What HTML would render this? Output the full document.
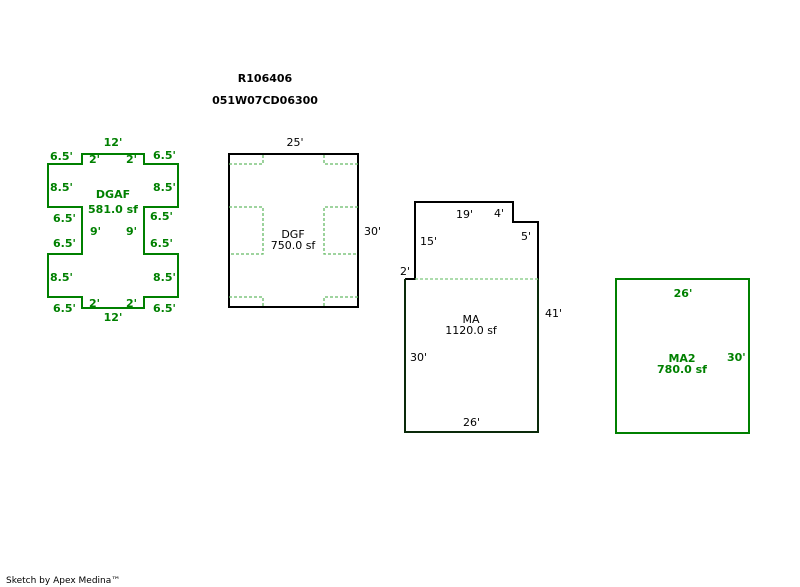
<!DOCTYPE html>
<html><head><style>
body{margin:0;background:#fff}
svg{display:block}
text{font-family:"DejaVu Sans","Liberation Sans",sans-serif;font-size:11px}
.g{fill:#008000;font-weight:bold}
.k{fill:#000}
</style></head><body>
<svg width="800" height="587" viewBox="0 0 800 587">
<text class="k" x="265" y="82" text-anchor="middle" font-weight="bold">R106406</text>
<text class="k" x="265" y="104" text-anchor="middle" font-weight="bold">051W07CD06300</text>

<!-- DGAF -->
<polygon points="82,154 144,154 144,164 178,164 178,207 144,207 144,254 178,254 178,297 144,297 144,308 82,308 82,297 48,297 48,254 82,254 82,207 48,207 48,164 82,164" fill="none" stroke="#008000" stroke-width="2"/>
<g class="g">
<text x="113" y="146" text-anchor="middle">12'</text>
<text x="50" y="160">6.5'</text><text x="153" y="159">6.5'</text>
<text x="89" y="163">2'</text><text x="126" y="163">2'</text>
<text x="50" y="191">8.5'</text><text x="153" y="191">8.5'</text>
<text x="113" y="198" text-anchor="middle">DGAF</text>
<text x="113" y="213" text-anchor="middle">581.0 sf</text>
<text x="53" y="222">6.5'</text><text x="150" y="220">6.5'</text>
<text x="90" y="235">9'</text><text x="126" y="235">9'</text>
<text x="53" y="247">6.5'</text><text x="150" y="247">6.5'</text>
<text x="50" y="281">8.5'</text><text x="153" y="281">8.5'</text>
<text x="89" y="307">2'</text><text x="126" y="307">2'</text>
<text x="53" y="312">6.5'</text><text x="153" y="312">6.5'</text>
<text x="113" y="321" text-anchor="middle">12'</text>
</g>

<!-- DGF -->
<rect x="229" y="154" width="129" height="153" fill="none" stroke="#000" stroke-width="2"/>
<g fill="none" stroke="#66bb66" stroke-width="1.3" stroke-dasharray="3,2">
<polyline points="229,164 263,164 263,154"/><polyline points="358,164 324,164 324,154"/>
<polyline points="229,207 263,207 263,254 229,254"/><polyline points="358,207 324,207 324,254 358,254"/>
<polyline points="229,297 263,297 263,307"/><polyline points="358,297 324,297 324,307"/>
</g>
<text class="k" x="295" y="146" text-anchor="middle">25'</text>
<text class="k" x="293" y="238" text-anchor="middle">DGF</text>
<text class="k" x="293" y="249" text-anchor="middle">750.0 sf</text>
<text class="k" x="364" y="235">30'</text>

<!-- MA -->
<polyline points="405,279 415,279 415,202 513,202 513,222 538,222 538,279" fill="none" stroke="#000" stroke-width="2"/>
<polyline points="405,279 405,432 538,432 538,279" fill="none" stroke="#0a2a0a" stroke-width="2"/>
<line x1="415" y1="279" x2="538" y2="279" stroke="#7cc67c" stroke-width="1.3" stroke-dasharray="3,2"/>
<text class="k" x="456" y="218">19'</text>
<text class="k" x="494" y="217">4'</text>
<text class="k" x="420" y="245">15'</text>
<text class="k" x="521" y="240">5'</text>
<text class="k" x="400" y="275">2'</text>
<text class="k" x="545" y="317">41'</text>
<text class="k" x="471" y="323" text-anchor="middle">MA</text>
<text class="k" x="471" y="334" text-anchor="middle">1120.0 sf</text>
<text class="k" x="410" y="361">30'</text>
<text class="k" x="463" y="426">26'</text>

<!-- MA2 -->
<rect x="616" y="279" width="133" height="154" fill="none" stroke="#008000" stroke-width="2"/>
<g class="g">
<text x="683" y="297" text-anchor="middle">26'</text>
<text x="682" y="362" text-anchor="middle">MA2</text>
<text x="682" y="373" text-anchor="middle">780.0 sf</text>
<text x="727" y="361">30'</text>
</g>

<text class="k" x="6" y="583" style="font-size:9px">Sketch by Apex Medina™</text>
</svg>
</body></html>
